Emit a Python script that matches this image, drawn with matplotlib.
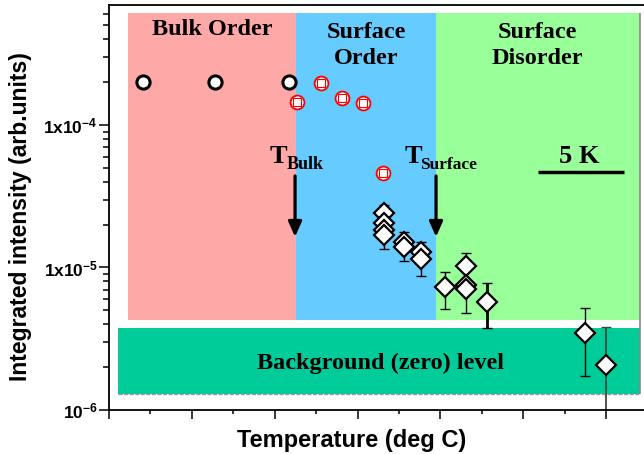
import matplotlib
matplotlib.use('Agg')
import matplotlib.pyplot as plt
import numpy as np
from matplotlib.ticker import MultipleLocator, FixedLocator, FixedFormatter, LogLocator, NullFormatter

plt.rcParams['font.family'] = ['Liberation Sans', 'DejaVu Sans']
plt.rcParams['mathtext.fontset'] = 'custom'
plt.rcParams['mathtext.rm'] = 'Liberation Sans:bold'
plt.rcParams['mathtext.default'] = 'rm'

# --- data (x in deg C, arbitrary offset; y in arb. units) ---
region_names = ['Bulk Order', 'Surface\nOrder', 'Surface\nDisorder']
region_edges = [1.15, 11.29, 19.74, 32.05]
region_colors = ['#FFA8A8', '#66CCFF', '#99FF99']
region_ylim = [4.3e-6, 6.1e-4]
bg_x = [0.54, 32.05]
bg_ylim = [1.3e-6, 3.76e-6]

bulk_T = [2.05, 6.40, 10.86]
bulk_I = [2.0e-4, 2.0e-4, 2.0e-4]

surf_T = [11.35, 12.80, 14.06, 15.33, 16.54]
surf_I = [1.45e-4, 1.97e-4, 1.55e-4, 1.43e-4, 4.6e-5]

dia_T = [16.60, 16.60, 16.60, 16.60, 17.81, 17.81, 18.83, 18.83, 20.28,
         21.55, 21.55, 21.55, 22.82, 28.73, 30.0]
dia_I = [2.41e-5, 2.05e-5, 1.83e-5, 1.69e-5, 1.51e-5, 1.39e-5, 1.28e-5, 1.15e-5, 7.3e-6,
         1.03e-5, 7.54e-6, 7.07e-6, 5.73e-6, 3.47e-6, 2.07e-6]

err_T = [16.60, 17.81, 18.83, 20.28, 21.55, 22.82, 28.73, 30.0]
err_lo = [1.35e-5, 1.11e-5, 8.72e-6, 5.12e-6, 4.80e-6, 3.76e-6, 1.73e-6, 5e-7]
err_hi = [2.75e-5, 1.77e-5, 1.51e-5, 9.30e-6, 1.26e-5, 7.78e-6, 5.20e-6, 3.82e-6]

T_bulk = 11.23
T_surface = 19.74
scale_bar = [25.90, 31.09]

fig = plt.figure(figsize=(6.44, 4.54), dpi=100)
ax = fig.add_axes([109 / 644, 1 - 410 / 454, 551.7 / 644, 405 / 454])
ax.set_yscale('log')
ax.set_xlim(0, 33.3)
ax.set_ylim(1e-6, 6.95e-4)

# shaded regions
for i in range(3):
    ax.fill_between([region_edges[i], region_edges[i + 1]], region_ylim[0], region_ylim[1],
                    color=region_colors[i], lw=0, zorder=0)
ax.fill_between(bg_x, bg_ylim[0], bg_ylim[1], color='#00CC99', lw=0, zorder=0)
ax.hlines(bg_ylim[0], bg_x[0], bg_x[1], color='#999999', lw=1, linestyle=(0, (3, 1)), zorder=0.5)
ax.vlines(region_edges[-1], bg_ylim[0], region_ylim[1], color='#888888', lw=1.2, zorder=0.5)

# region labels
big = dict(family='Liberation Serif', fontweight='bold', fontsize=17.5, ha='center', va='center')
ax.text(6.25, 4.7e-4, region_names[0], **big)
ax.text(15.51, 3.62e-4, region_names[1], linespacing=1.3, **big)
ax.text(25.84, 3.62e-4, region_names[2], linespacing=1.3, **big)
ax.text(16.36, 2.14e-6, 'Background (zero) level', **big)

# transition markers
serif = dict(family='Liberation Serif', fontweight='bold')
ax.text(9.72, 5.41e-5, 'T', fontsize=19, **serif)
ax.text(10.74, 4.91e-5, 'Bulk', fontsize=13, **serif)
ax.text(17.81, 5.41e-5, 'T', fontsize=19, **serif)
ax.text(18.77, 4.91e-5, 'Surface', fontsize=12.5, **serif)
for xt in [T_bulk, T_surface]:
    ax.annotate('', xy=(xt, 1.64e-5), xytext=(xt, 4.39e-5),
                arrowprops=dict(arrowstyle='-|>,head_length=0.9,head_width=0.4',
                                lw=2.3, color='k', shrinkA=0, shrinkB=0))

# 5 K scale bar
ax.plot(scale_bar, [4.68e-5, 4.68e-5], color='k', lw=2.5, solid_capstyle='butt')
ax.text(sum(scale_bar) / 2 - 0.1, 5.41e-5, '5 K', fontsize=19, ha='center', **serif)

# data
ax.plot(bulk_T, bulk_I, 'o', ms=9.5, mfc='white', mec='k', mew=2.2, zorder=3)
ax.plot(surf_T, surf_I, 'o', ms=10, mfc='white', mec='red', mew=1.3, zorder=3)
ax.plot(surf_T, surf_I, 's', ms=5.5, mfc='white', mec='red', mew=0.8, zorder=4)
err_col = ['k'] * 6 + ['k', '#3a4a3a']
err_w = [1, 1, 1, 1, 1, 2, 1, 1.3]
ax.vlines(err_T, err_lo, err_hi, colors=err_col, linewidths=err_w, zorder=2)
ax.scatter(err_T, err_lo, marker='_', s=50, c=err_col, linewidths=1, zorder=2)
ax.scatter(err_T, err_hi, marker='_', s=50, c=err_col, linewidths=1, zorder=2)
ax.plot(dia_T, dia_I, 'D', ms=10.5, mfc='white', mec='k', mew=1.6, zorder=3)

# axes styling
ax.spines['right'].set_visible(False)
for s in ['left', 'bottom', 'top']:
    ax.spines[s].set_linewidth(1.3)
ax.xaxis.set_major_locator(MultipleLocator(5))
ax.xaxis.set_minor_locator(MultipleLocator(2.5))
ax.xaxis.set_major_formatter(NullFormatter())
ax.yaxis.set_major_locator(FixedLocator([1e-6, 1e-5, 1e-4]))
ax.yaxis.set_major_formatter(FixedFormatter(['10$^{-6}$', '1x10$^{-5}$', '1x10$^{-4}$']))
ax.yaxis.set_minor_locator(LogLocator(base=10, subs=np.arange(2, 10), numticks=20))
ax.yaxis.set_minor_formatter(NullFormatter())
ax.tick_params(axis='x', which='major', direction='out', length=6.5, width=1.1)
ax.tick_params(axis='x', which='minor', direction='out', length=3.2, width=1.1)
ax.tick_params(axis='y', which='major', direction='out', length=7, width=1.1, pad=1)
ax.tick_params(axis='y', which='minor', direction='out', length=4, width=1.1)
for lab in ax.get_yticklabels():
    lab.set_fontweight('bold')
    lab.set_fontsize(12.5)

ax.set_xlabel('Temperature (deg C)', fontsize=17, fontweight='bold')
ax.set_ylabel('Integrated intensity (arb.units)', fontsize=16.5, fontweight='bold')
ax.xaxis.set_label_coords(0.44, -0.048)
ax.yaxis.set_label_coords(-0.14, 0.478)

fig.savefig('out.png', dpi=100)
